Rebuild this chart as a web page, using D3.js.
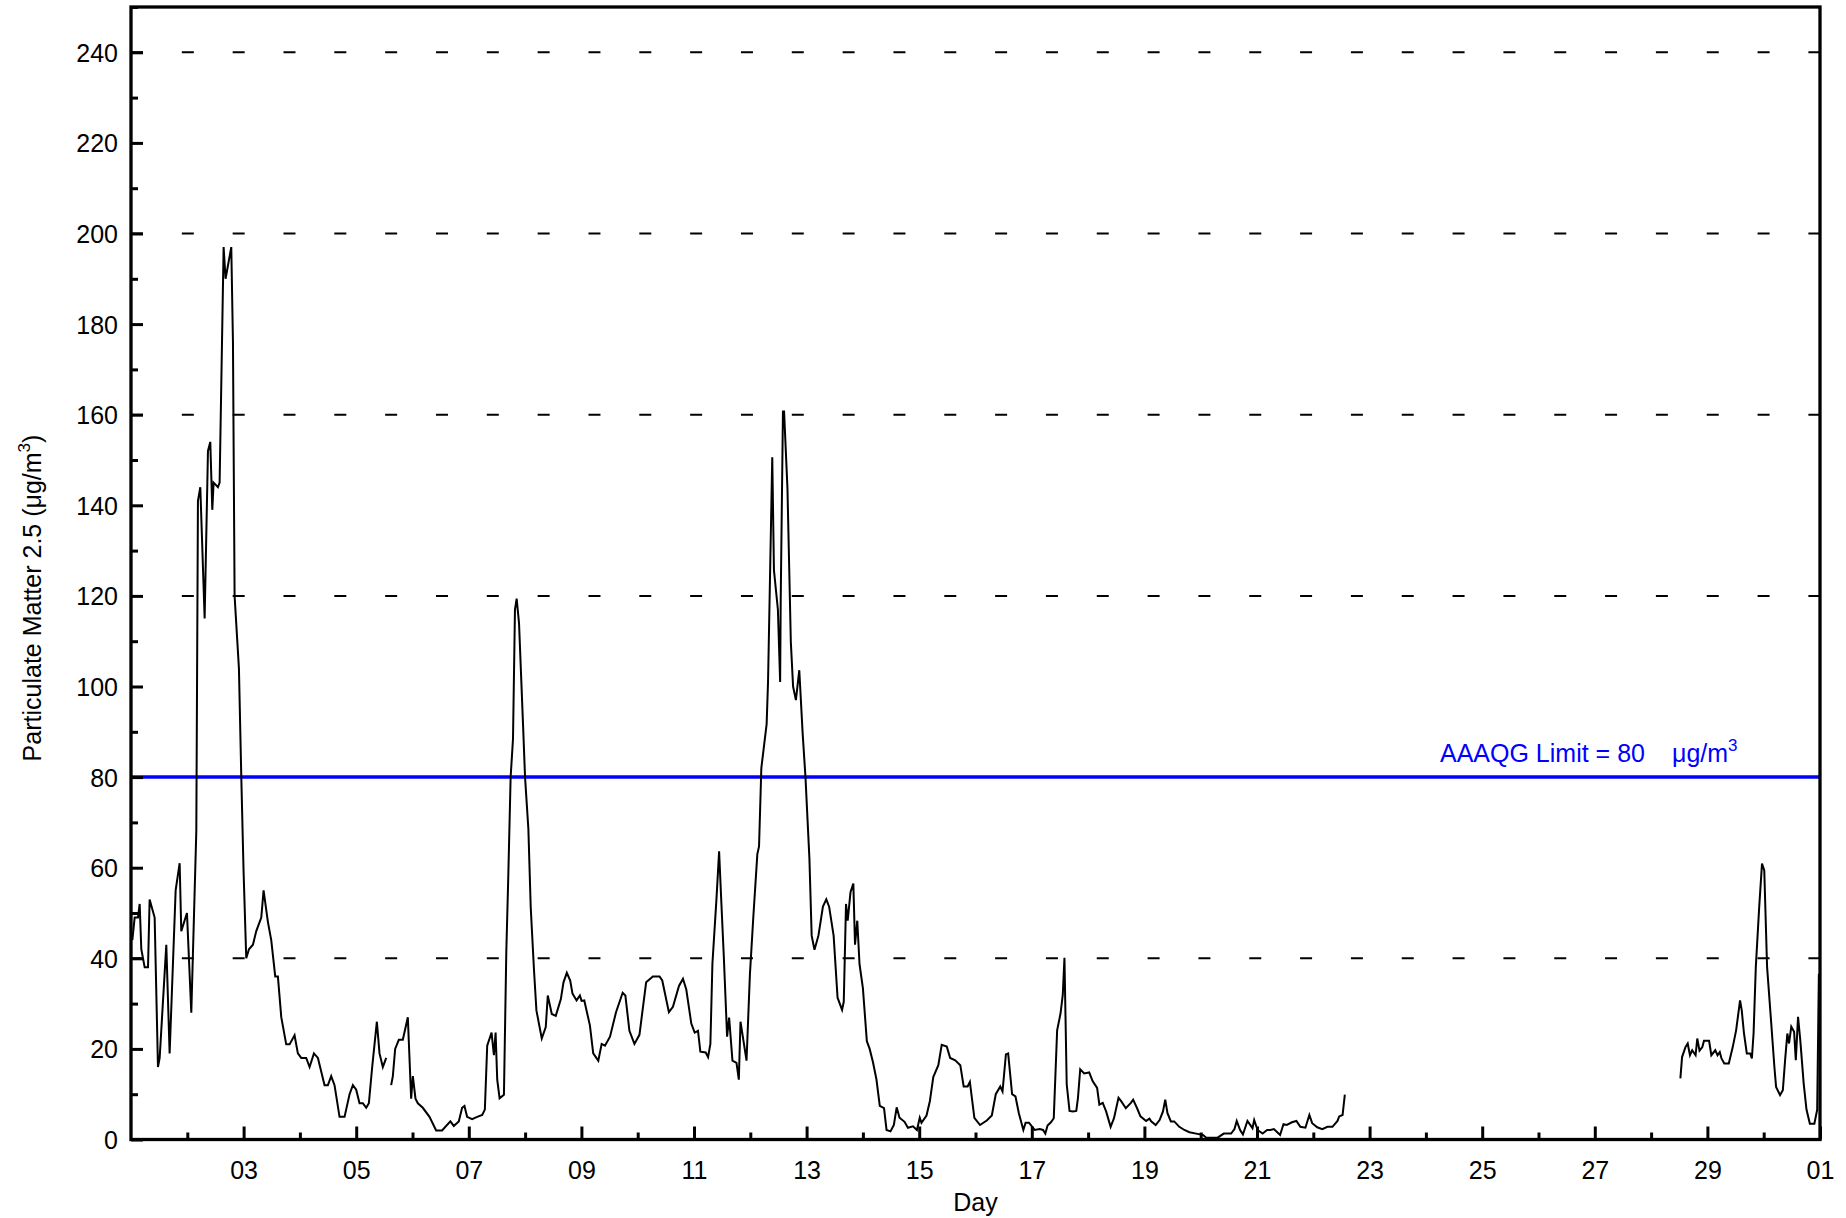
<!DOCTYPE html>
<html>
<head>
<meta charset="utf-8">
<script src="https://cdn.jsdelivr.net/npm/d3@7"></script>
<style>
  html, body { margin: 0; padding: 0; background: #ffffff; }
  svg { display: block; }
  text { font-family: "Liberation Sans", Arial, sans-serif; }
</style>
</head>
<body>
<script>
// ---------------- DATA ----------------
// Observation time (day of month, decimal) and hourly PM2.5 (µg/m³); null = no data
const obsDay = [
  1.024,1.065,1.124,1.154,1.183,1.243,1.302,1.331,1.420,1.479,1.509,1.627,1.686,1.793,1.864,1.893,1.994,
  2.071,2.160,2.189,2.231,2.308,2.367,2.408,2.444,2.467,2.544,2.574,2.645,2.680,2.781,2.811,2.840,2.917,2.959,
  3.000,3.047,3.095,3.166,3.225,3.314,3.355,3.432,3.491,3.562,3.609,3.669,3.757,3.817,3.905,3.964,
  4.024,4.112,4.172,4.249,4.320,4.438,4.497,4.556,4.615,4.704,4.793,4.882,4.941,
  5.000,5.059,5.118,5.178,5.225,5.284,5.367,5.414,5.473,5.533,5.577,
  5.621,5.651,5.692,5.757,5.828,5.917,5.976,6.006,6.053,6.095,6.183,6.302,6.420,
  6.525,6.673,6.733,6.822,6.881,6.923,6.970,7.059,7.149,7.238,7.285,7.327,7.404,7.446,7.476,7.505,7.547,7.624,
  7.666,7.701,7.743,7.785,7.820,7.850,7.892,7.963,7.999,8.058,8.100,8.159,8.201,8.296,8.367,8.403,8.474,8.545,
  8.635,8.682,8.741,8.801,8.842,8.914,8.973,9.003,9.051,9.151,9.210,9.300,9.360,9.419,9.508,9.615,9.733,9.781,
  9.853,9.942,10.031,10.150,10.269,10.388,10.436,10.554,10.626,10.733,10.804,10.863,10.952,11.012,11.071,11.113,
  11.208,11.250,11.291,11.327,11.398,11.446,11.487,11.529,11.588,11.624,11.683,11.755,11.796,11.826,11.933,11.993,12.052,
  12.125,12.155,12.196,12.29,12.315,12.35,12.39,12.42,12.49,12.53,12.54,12.58,12.60,12.66,12.72,12.76,12.81,12.87,12.93,12.98,
  13.05,13.09,13.14,13.21,13.29,13.35,13.40,13.48,13.55,13.63,13.66,13.70,13.73,13.78,13.83,13.86,13.90,13.94,
  14.00,14.07,14.12,14.18,14.24,14.30,14.375,14.42,14.49,14.55,14.60,14.65,14.74,14.80,14.89,14.96,
  15.01,15.04,15.13,15.19,15.25,15.34,15.40,15.49,15.55,15.64,15.73,15.79,15.86,15.90,15.98,
  16.08,16.20,16.29,16.36,16.44,16.48,16.54,16.58,16.65,16.71,16.77,16.85,16.89,16.95,
  17.05,17.14,17.20,17.24,17.28,17.34,17.39,17.45,17.51,17.55,17.58,17.62,17.67,17.73,17.79,17.82,17.86,17.93,
  18.02,18.08,18.16,18.20,18.26,18.32,18.40,18.46,18.54,18.59,18.67,18.76,18.80,18.87,18.93,
  19.03,19.09,19.12,19.20,19.27,19.33,19.37,19.41,19.47,19.53,19.62,19.71,19.80,19.92,
  20.04,20.10,20.30,20.41,20.54,20.60,20.64,20.70,20.75,20.83,20.92,20.95,
  21.01,21.10,21.18,21.24,21.30,21.36,21.41,21.47,21.53,21.62,21.70,21.77,21.86,21.93,21.98,
  22.07,22.16,22.25,22.34,22.43,22.46,22.52,22.56,25.5,
  28.52,28.55,28.61,28.65,28.69,28.73,28.79,28.82,28.86,28.91,28.94,
  29.03,29.07,29.14,29.18,29.22,29.25,29.30,29.38,29.45,29.51,29.58,29.61,29.65,29.70,29.76,29.79,29.82,29.86,29.92,29.97,
  30.01,30.06,30.13,30.19,30.22,30.29,30.34,30.38,30.42,30.45,30.49,30.54,30.57,30.61,30.65,30.71,30.76,30.82,30.90,30.95,30.98
];
const pm25 = [
  44,49,49,52,42,38,38,53,49,16,18,43,19,55,61,46,50,
  28,68,141,144,115,152,154,139,145,144,145,197,190,197,176,120,104,80,
  59,40,42,43,46,49,55,48,44,36,36,27,21,21,23,19,
  18,18,16,19,18,12,12,14,12,5,5,10,12,
  11,8,8,7,8,16,26,19,16,18,null,
  12,14,20,22,22,27,9,14,9,8,7,5,2,
  2,4,3,4,7,7.4,5,4.5,5,5.4,6.6,20.7,23.6,18.6,23.6,13.2,9.1,9.9,
  41.3,57.9,80,88.4,117,119.4,114,91.7,80,68.6,51.2,37.2,28.5,22.3,24.8,31.8,27.7,27.3,
  31,34.7,36.8,35.1,32.2,30.7,31.8,30.6,30.7,25.2,19,17.4,21.1,20.7,22.7,28.1,32.4,31.8,
  24,21.1,23.1,34.7,36,36,35.1,28.1,29.3,33.9,35.5,33.1,25.6,23.6,24,19.4,
  19.2,18.2,21.1,38.8,52.9,63.6,52,40.5,22.7,26.9,17.4,16.9,13.2,26,17.4,36.4,48.8,
  63,64.7,82,91.7,101,124,150.6,125.7,117,101,119,160.7,160.7,143.7,109.8,100,97,103.6,89.6,80,
  62,45,41.9,45,51.4,53,51.4,45,31.3,28.6,30.4,52,48.3,54.6,56.5,43,48.3,38.7,
  33.4,21.7,20,17,13.3,7.4,6.9,2.1,1.8,3.2,7.1,4.8,3.9,2.6,2.9,2.1,
  4.8,3.7,5.3,8.5,13.8,16.4,20.9,20.5,18,17.5,16.4,11.7,11.7,12.7,4.8,
  3.2,4.2,5.3,10,11.7,10.6,18.8,19,10,9.5,5.8,2.1,3.7,3.7,
  2.1,2.3,2.1,1.3,3.1,3.8,4.7,24.1,27.8,31.9,40.1,12.2,6.3,6.2,6.3,9.2,15.5,14.6,
  14.8,12.9,11.4,7.7,8.1,6.2,2.8,4.7,9.2,8.4,6.9,8.1,8.8,6.9,5.1,
  4.1,4.6,4,3.2,4.3,6.2,8.8,5.8,4,4,2.8,2.1,1.6,1.3,
  1,0.4,0.4,1.3,1.3,2.3,4.1,2.1,1.1,4.1,2.5,4.3,
  2.1,1.3,2.1,2.1,2.3,1.6,1,3.4,3.2,3.8,4.1,2.8,2.6,5.4,3.6,
  2.7,2.3,2.8,2.8,4.1,5.1,5.4,9.9,null,
  13.5,18.2,20.4,21.2,18.6,19.7,18.6,22.3,19.6,20.4,21.8,
  21.8,18.6,19.7,18.6,19.3,17.9,16.8,16.8,20.4,24.1,30.7,28.5,23.4,19,19,17.9,23.4,38.1,51.3,60.9,
  59.4,38.1,26.3,16,11.6,9.8,10.9,17.5,23.4,21.2,24.9,23.8,17.5,27.1,21.9,12.4,6.6,3.5,3.5,6.6,36.6
];

const limitValue = 80;
const limitLabel = "AAAQG Limit = 80";
const limitUnit = "\u03BCg/m";

const yMajorTicks = [0,20,40,60,80,100,120,140,160,180,200,220,240];
const yMinorTicks = [10,30,50,70,90,110,130,150,170,190,210,230,250];
const gridValues = [40,80,120,160,200,240];
const xMajorDays = [3,5,7,9,11,13,15,17,19,21,23,25,27,29,31];
const xMajorLabels = ["03","05","07","09","11","13","15","17","19","21","23","25","27","29","01"];
const xMinorDays = [2,4,6,8,10,12,14,16,18,20,22,24,26,28,30];

// ---------------- CHART ----------------
const W = 1846, H = 1218;
const L = 131, R = 1820, T = 7, B = 1139.5;

const svg = d3.select("body").append("svg").attr("width", W).attr("height", H);

const x = d3.scaleLinear().domain([1, 31]).range([L, R]);
const y = d3.scaleLinear().domain([0, 250]).range([B, T]);

// dashed grid
svg.append("g").selectAll("line").data(gridValues).join("line")
  .attr("x1", L).attr("x2", R)
  .attr("y1", d => y(d)).attr("y2", d => y(d))
  .attr("stroke", "#000").attr("stroke-width", 2)
  .attr("stroke-dasharray", "12,38.83");

// limit line
svg.append("line")
  .attr("x1", L).attr("x2", R)
  .attr("y1", y(limitValue)).attr("y2", y(limitValue))
  .attr("stroke", "#0000ff").attr("stroke-width", 3.5);

const lbl = svg.append("text")
  .attr("x", 1440).attr("y", y(limitValue) - 15)
  .attr("fill", "#0000ff").attr("font-size", 25);
lbl.append("tspan").text(limitLabel);
lbl.append("tspan").attr("x", 1672).text(limitUnit);
lbl.append("tspan").attr("font-size", 17).attr("dy", -11).text("3");

// data line
const line = d3.line()
  .defined((d, i) => pm25[i] !== null)
  .x((d, i) => x(obsDay[i]))
  .y((d, i) => y(pm25[i]));

svg.append("path")
  .datum(obsDay)
  .attr("d", line)
  .attr("fill", "none")
  .attr("stroke", "#000")
  .attr("stroke-width", 2)
  .attr("stroke-miterlimit", 4);

// axes (inward ticks)
const font = g => g.selectAll("text")
  .attr("font-family", "'Liberation Sans', Arial, sans-serif")
  .attr("font-size", 25).attr("fill", "#000");

const gyMinor = svg.append("g").attr("transform", `translate(${L},0)`)
  .call(d3.axisLeft(y).tickValues(yMinorTicks).tickSize(-7).tickFormat(""));
const gyMajor = svg.append("g").attr("transform", `translate(${L},0)`)
  .call(d3.axisLeft(y).tickValues(yMajorTicks).tickSize(-12).tickPadding(13))
  .call(font);
gyMajor.selectAll("text").attr("dy", "0.36em");

const gxMinor = svg.append("g").attr("transform", `translate(0,${B})`)
  .call(d3.axisBottom(x).tickValues(xMinorDays).tickSize(-7).tickFormat(""));
const gxMajor = svg.append("g").attr("transform", `translate(0,${B})`)
  .call(d3.axisBottom(x).tickValues(xMajorDays).tickSize(-13).tickPadding(22)
    .tickFormat((d, i) => xMajorLabels[i]))
  .call(font);

[gyMinor, gyMajor, gxMinor, gxMajor].forEach(g => {
  g.select(".domain").remove();
  g.selectAll(".tick line").attr("stroke", "#000").attr("stroke-width", 3);
});

// frame
svg.append("rect")
  .attr("x", L).attr("y", T).attr("width", R - L).attr("height", B - T)
  .attr("fill", "none").attr("stroke", "#000").attr("stroke-width", 3.3);

// axis titles
svg.append("text")
  .attr("x", (L + R) / 2).attr("y", 1211)
  .attr("text-anchor", "middle").attr("font-size", 25).attr("fill", "#000")
  .text("Day");

const yt = svg.append("text")
  .attr("transform", "translate(41,598) rotate(-90)")
  .attr("text-anchor", "middle").attr("font-size", 25).attr("fill", "#000");
yt.append("tspan").text("Particulate Matter 2.5 (\u03BCg/m");
yt.append("tspan").attr("font-size", 17).attr("dy", -11).text("3");
yt.append("tspan").attr("dy", 11).text(")");
</script>
</body>
</html>
